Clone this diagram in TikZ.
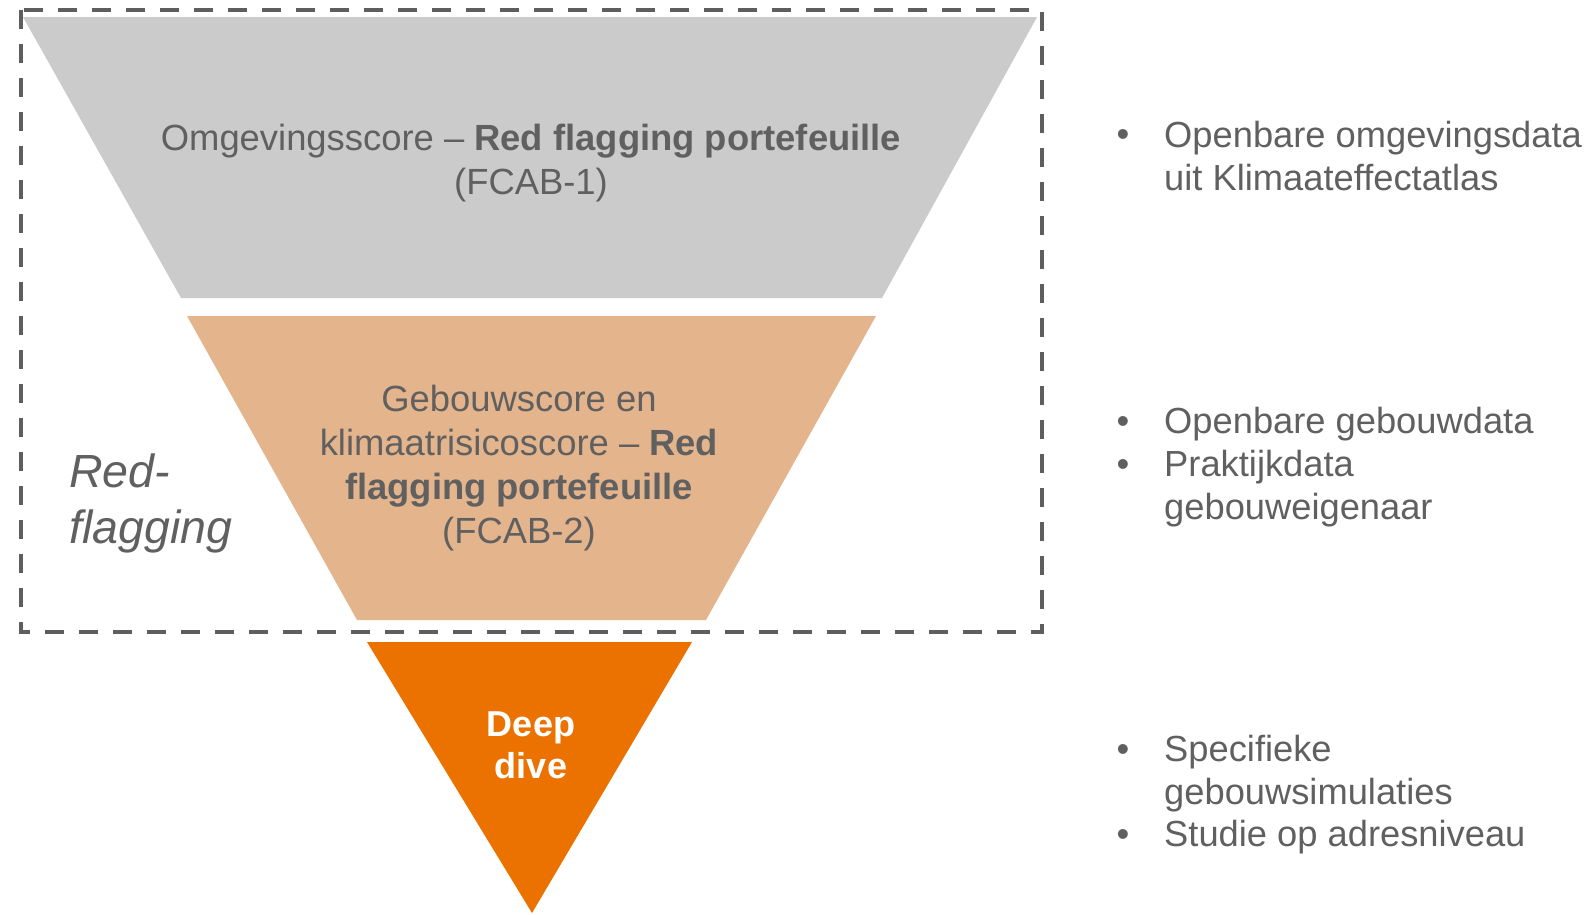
\documentclass[tikz,border=0pt]{standalone}
\usepackage{fontspec}
\setmainfont{Liberation Sans}
\definecolor{gband}{HTML}{CBCBCB}
\definecolor{tband}{HTML}{E4B48C}
\definecolor{oband}{HTML}{EC7200}
\definecolor{txt}{HTML}{606060}
\definecolor{dashc}{HTML}{5E5E5E}
\begin{document}
\begin{tikzpicture}[x=1pt,y=-1pt,
  lbl/.style={text=txt, font=\fontsize{36.4}{44}\selectfont, inner sep=0pt, align=center},
  side/.style={text=txt, font=\fontsize{36.3}{43}\selectfont, inner sep=0pt, align=left, anchor=base west},
  bul/.style={text=txt, font=\fontsize{36.3}{43}\selectfont, inner sep=0pt, anchor=base},
  dbox/.style={draw=dashc, line width=4.5pt, dash pattern=on 19pt off 15pt}]
\useasboundingbox (0,0) rectangle (1594,914);
% funnel bands
\fill[gband] (23,17) -- (1037,17) -- (882,298) -- (181,298) -- cycle;
\fill[tband] (187,316) -- (876,316) -- (706,620) -- (357,620) -- cycle;
\fill[oband] (367,642) -- (692,642) -- (532,913) -- cycle;
% dashed box
\draw[dbox] (21,10) rectangle (1042,632);
% band texts (base anchor = baseline of last line)
\node[lbl, anchor=base] (t1) at (531,194) {Omgevingsscore -- \textbf{Red flagging portefeuille}\\(FCAB-1)};
\node[lbl, anchor=base] (t2) at (519,543) {Gebouwscore en\\klimaatrisicoscore -- \textbf{Red}\\\textbf{flagging portefeuille}\\(FCAB-2)};
\node[lbl, text=white, font=\bfseries\fontsize{36}{42}\selectfont, anchor=base] (t3) at (531,778) {Deep\\dive};
% red-flagging label
\node[text=txt, font=\itshape\fontsize{46.5}{56}\selectfont, inner sep=0pt, align=left, anchor=base west] (rf) at (69,543) {Red-\\flagging};
% right side bullets
\node[bul] (b1) at (1123,146) {•};
\node[side] (s1) at (1164,190) {Openbare omgevingsdata\\uit Klimaateffectatlas};
\node[bul] (b2) at (1123,433) {•};
\node[side] (s2) at (1164,433) {Openbare gebouwdata};
\node[bul] (b3) at (1123,476) {•};
\node[side] (s3) at (1164,519) {Praktijkdata\\gebouweigenaar};
\node[bul] (b4) at (1123,761) {•};
\node[side] (s4) at (1164,804) {Specifieke\\gebouwsimulaties};
\node[bul] (b5) at (1123,846) {•};
\node[side] (s5) at (1164,846) {Studie op adresniveau};
\end{tikzpicture}
\end{document}
